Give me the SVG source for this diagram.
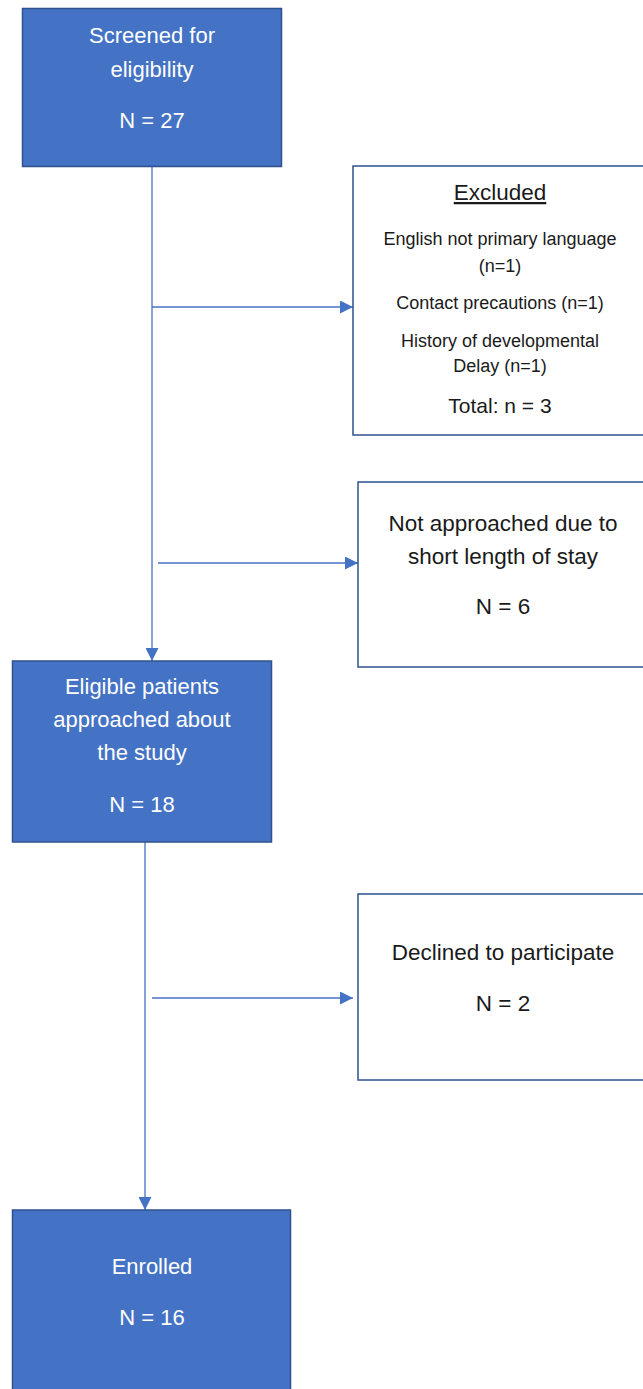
<svg xmlns="http://www.w3.org/2000/svg" width="643" height="1389" viewBox="0 0 643 1389">
<style>
.blue{fill:#4472C4;stroke:#2F528F;stroke-width:1.5}
.white{fill:#FFFFFF;stroke:#2F528F;stroke-width:1.5}
.con{stroke:#4472C4;stroke-width:1.3;fill:none}
.tw{font-family:"Liberation Sans",Arial,sans-serif;fill:#FFFFFF;font-size:22px;text-anchor:middle}
.tb{font-family:"Liberation Sans",Arial,sans-serif;fill:#1a1a1a;font-size:22.5px;text-anchor:middle}
.ts{font-family:"Liberation Sans",Arial,sans-serif;fill:#1a1a1a;font-size:18px;text-anchor:middle}
</style>
<defs>
<marker id="arr" markerWidth="13" markerHeight="13" refX="13" refY="6.5" orient="auto" markerUnits="userSpaceOnUse">
<path d="M0,0 L13,6.5 L0,13 Z" fill="#4472C4"/>
</marker>
</defs>
<rect width="643" height="1389" fill="#FFFFFF"/>
<g id="connectors">
<line class="con" x1="152" y1="166" x2="152" y2="661" marker-end="url(#arr)"/>
<line class="con" x1="152" y1="307" x2="353" y2="307" marker-end="url(#arr)"/>
<line class="con" x1="158" y1="563" x2="358" y2="563" marker-end="url(#arr)"/>
<line class="con" x1="145" y1="842" x2="145" y2="1210" marker-end="url(#arr)"/>
<line class="con" x1="152" y1="998" x2="353" y2="998" marker-end="url(#arr)"/>
</g>
<g id="screened">
<rect class="blue" x="22.5" y="8.5" width="259" height="158"/>
<text class="tw" x="152" y="43">Screened for</text>
<text class="tw" x="152" y="77">eligibility</text>
<text class="tw" x="152" y="128">N = 27</text>
</g>
<g id="excluded">
<rect class="white" x="353" y="166" width="300" height="269"/>
<text class="tb" x="500" y="200" text-decoration="underline">Excluded</text>
<text class="ts" x="500" y="245">English not primary language</text>
<text class="ts" x="500" y="272">(n=1)</text>
<text class="ts" x="500" y="309">Contact precautions (n=1)</text>
<text class="ts" x="500" y="347">History of developmental</text>
<text class="ts" x="500" y="372">Delay (n=1)</text>
<text class="ts" x="500" y="413" style="font-size:21px">Total: n = 3</text>
</g>
<g id="not-approached">
<rect class="white" x="358" y="482" width="300" height="185"/>
<text class="tb" x="503" y="531">Not approached due to</text>
<text class="tb" x="503" y="564">short length of stay</text>
<text class="tb" x="503" y="614">N = 6</text>
</g>
<g id="eligible">
<rect class="blue" x="12.5" y="661" width="259" height="181"/>
<text class="tw" x="142" y="694">Eligible patients</text>
<text class="tw" x="142" y="727">approached about</text>
<text class="tw" x="142" y="760">the study</text>
<text class="tw" x="142" y="812">N = 18</text>
</g>
<g id="declined">
<rect class="white" x="358" y="894" width="300" height="186"/>
<text class="tb" x="503" y="960">Declined to participate</text>
<text class="tb" x="503" y="1011">N = 2</text>
</g>
<g id="enrolled">
<rect class="blue" x="12.5" y="1210" width="278" height="190"/>
<text class="tw" x="152" y="1274">Enrolled</text>
<text class="tw" x="152" y="1325">N = 16</text>
</g>
</svg>
